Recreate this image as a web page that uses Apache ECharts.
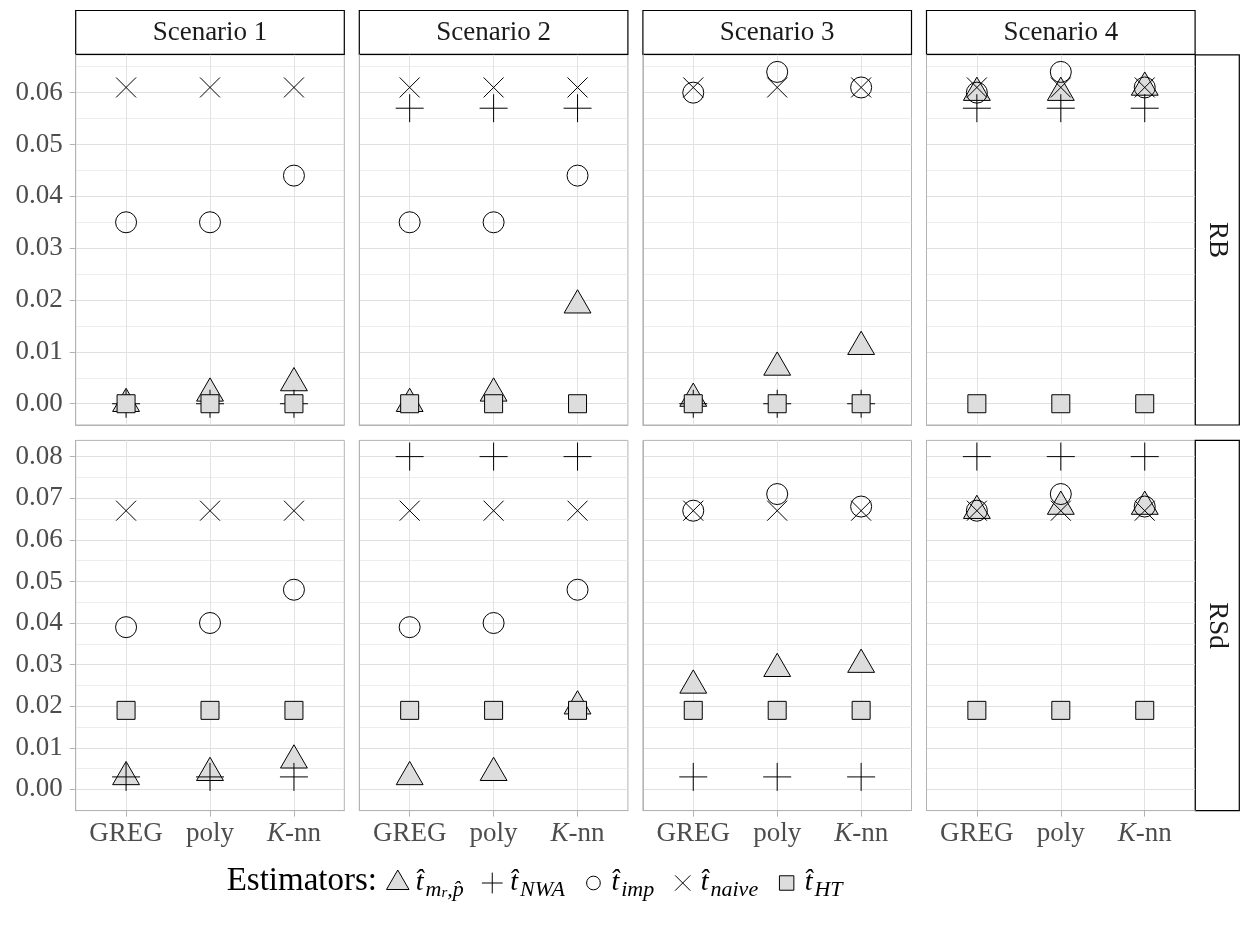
<!DOCTYPE html>
<html><head><meta charset="utf-8">
<script src="https://cdn.jsdelivr.net/npm/echarts@6/dist/echarts.min.js"></script>
<style>html,body{margin:0;padding:0;background:#fff}#c{width:1243px;height:925px}</style>
</head><body><div id="c"></div>
<script>
// ---------- data ----------
const categories = ['GREG', 'poly', 'K-nn'];
const scenarios = ['Scenario 1', 'Scenario 2', 'Scenario 3', 'Scenario 4'];
const metrics = ['RB', 'RSd'];
const estimators = ['mr', 'NWA', 'imp', 'naive', 'HT'];

// values per scenario, per category (GREG, poly, K-nn)
const rbMr    = [[0.000, 0.002, 0.004], [0.000, 0.002, 0.019], [0.001, 0.007, 0.011], [0.060, 0.060, 0.061]];
const rbNWA   = [[0.000, 0.000, 0.000], [0.057, 0.057, 0.057], [0.000, 0.000, 0.000], [0.057, 0.057, 0.057]];
const rbImp   = [[0.035, 0.035, 0.044], [0.035, 0.035, 0.044], [0.060, 0.064, 0.061], [0.060, 0.064, 0.061]];
const rbNaive = [[0.061, 0.061, 0.061], [0.061, 0.061, 0.061], [0.061, 0.061, 0.061], [0.061, 0.061, 0.061]];
const rbHT    = [[0.000, 0.000, 0.000], [0.000, 0.000, 0.000], [0.000, 0.000, 0.000], [0.000, 0.000, 0.000]];

const rsdMr    = [[0.003, 0.004, 0.007], [0.003, 0.004, 0.020], [0.025, 0.029, 0.030], [0.067, 0.068, 0.068]];
const rsdNWA   = [[0.003, 0.003, 0.003], [0.080, 0.080, 0.080], [0.003, 0.003, 0.003], [0.080, 0.080, 0.080]];
const rsdImp   = [[0.039, 0.040, 0.048], [0.039, 0.040, 0.048], [0.067, 0.071, 0.068], [0.067, 0.071, 0.068]];
const rsdNaive = [[0.067, 0.067, 0.067], [0.067, 0.067, 0.067], [0.067, 0.067, 0.067], [0.067, 0.067, 0.067]];
const rsdHT    = [[0.019, 0.019, 0.019], [0.019, 0.019, 0.019], [0.019, 0.019, 0.019], [0.019, 0.019, 0.019]];

// axis ticks / ranges
const rbTicks = [0, 0.01, 0.02, 0.03, 0.04, 0.05, 0.06];
const rbMinorTicks = [0.005, 0.015, 0.025, 0.035, 0.045, 0.055, 0.065];
const rsdTicks = [0, 0.01, 0.02, 0.03, 0.04, 0.05, 0.06, 0.07, 0.08];
const rsdMinorTicks = [0.005, 0.015, 0.025, 0.035, 0.045, 0.055, 0.065, 0.075];
const rbRange = [-0.0041, 0.0673];
const rsdRange = [-0.0051, 0.0839];
const xTickPos = [1, 2, 3];

const legendLabels = {
  mr: '{t|t\u0302}{s0|m}{ss|r}{s|,p\u0302}',
  NWA: '{t|t\u0302}{s0|NWA}',
  imp: '{t|t\u0302}{s0|imp}',
  naive: '{t|t\u0302}{s0|naive}',
  HT: '{t|t\u0302}{s0|HT}'
};

// ---------- build ----------
const FONT = 'Liberation Serif';
const valueTable = {
  RB: { mr: rbMr, NWA: rbNWA, imp: rbImp, naive: rbNaive, HT: rbHT },
  RSd: { mr: rsdMr, NWA: rsdNWA, imp: rsdImp, naive: rsdNaive, HT: rsdHT }
};
const axisInfo = {
  RB: { ticks: rbTicks, minor: rbMinorTicks, range: rbRange },
  RSd: { ticks: rsdTicks, minor: rsdMinorTicks, range: rsdRange }
};
const drawOrder = ['mr', 'NWA', 'HT', 'imp', 'naive'];
const markerStyle = {
  mr:    { symbol: 'path://M0,1M0,-1L0.866,0.5L-0.866,0.5Z', size: 31, fill: '#dddddd' },
  NWA:   { symbol: 'path://M0,-1L0,1M-1,0L1,0', size: 28, fill: 'transparent' },
  imp:   { symbol: 'circle', size: 21, fill: 'transparent' },
  naive: { symbol: 'path://M-1,-1L1,1M-1,1L1,-1', size: 20, fill: 'transparent' },
  HT:    { symbol: 'rect', size: 18, fill: '#dddddd' }
};
const legendIcons = {
  mr: 'path://M0,1M0,-1L0.866,0.5L-0.866,0.5Z',
  NWA: 'path://M-1.25,-1.25M1.25,1.25M0,-1L0,1M-1,0L1,0',
  imp: 'path://M-1.9,-1.9M1.9,1.9M-1,0A1,1,0,1,0,1,0A1,1,0,1,0,-1,0Z',
  naive: 'path://M-1.7,-1.7M1.7,1.7M-1,-1L1,1M-1,1L1,-1',
  HT: 'path://M-1.8,-1.8M1.8,1.8M-1,-1L1,-1L1,1L-1,1Z'
};

const panelLeft0 = 75.7, panelStep = 283.6, panelW = 268.6;
const rowTops = [54.8, 440.4], panelH = 370.2;
const stripTop = 10.5, stripH = 43.8, rStripX = 1195.3, rStripW = 44;

const grid = [], xAxis = [], yAxis = [], series = [], graphic = [];

metrics.forEach((m, r) => {
  scenarios.forEach((sc, c) => {
    const g = r * 4 + c;
    const info = axisInfo[m];
    grid.push({
      left: panelLeft0 + c * panelStep, top: rowTops[r], width: panelW, height: panelH,
      show: true, borderColor: '#b3b3b3', borderWidth: 1, backgroundColor: '#fff',
      containLabel: false, outerBoundsMode: 'none'
    });
    xAxis.push({
      type: 'value', gridIndex: g, min: 0.4, max: 3.6, position: 'bottom',
      axisLine: { show: true, onZero: false, lineStyle: { color: '#b3b3b3', width: 1 } },
      axisTick: { show: r === 1, customValues: xTickPos, length: 6, lineStyle: { color: '#b3b3b3', width: 1 } },
      axisLabel: {
        show: r === 1, customValues: xTickPos, margin: 10,
        color: '#4d4d4d', fontFamily: FONT, fontSize: 27,
        formatter: v => categories[Math.round(v) - 1].replace(/^K/, '{i|K}'),
        rich: { i: { fontStyle: 'italic', fontFamily: FONT, fontSize: 27, color: '#4d4d4d' } }
      },
      splitLine: { show: true, lineStyle: { color: '#e3e3e3', width: 1 } },
      minorSplitLine: { show: false }
    });
    yAxis.push({
      type: 'value', gridIndex: g, min: info.range[0], max: info.range[1], position: 'left',
      axisLine: { show: true, onZero: false, lineStyle: { color: '#b3b3b3', width: 1 } },
      axisTick: { show: c === 0, customValues: info.ticks, length: 6, lineStyle: { color: '#b3b3b3', width: 1 } },
      axisLabel: {
        show: c === 0, customValues: info.ticks, margin: 13,
        color: '#4d4d4d', fontFamily: FONT, fontSize: 27,
        formatter: v => v.toFixed(2)
      },
      splitLine: { show: true, lineStyle: { color: '#e0e0e0', width: 1.1 } }
    });
    yAxis.push({
      type: 'value', gridIndex: g, min: info.range[0], max: info.range[1], position: 'right',
      axisLine: { show: false, onZero: false },
      axisTick: { show: false, customValues: info.minor },
      axisLabel: { show: false },
      splitLine: { show: true, lineStyle: { color: '#e9e9e9', width: 0.8 } }
    });
    drawOrder.forEach(est => {
      const st = markerStyle[est];
      series.push({
        type: 'scatter', name: est, xAxisIndex: g, yAxisIndex: 2 * g,
        symbol: st.symbol, symbolSize: st.size, symbolKeepAspect: true,
        itemStyle: { color: st.fill, borderColor: '#000', borderWidth: 1, opacity: 1 },
        emphasis: { disabled: true },
        silent: true,
        data: valueTable[m][est][c].map((v, i) => [xTickPos[i], v])
      });
    });
    // top strip
    if (r === 0) {
      graphic.push({
        type: 'group', silent: true,
        children: [
          { type: 'rect', shape: { x: panelLeft0 + c * panelStep, y: stripTop, width: panelW, height: stripH },
            style: { fill: '#fff', stroke: '#000', lineWidth: 1.2 } },
          { type: 'text', x: panelLeft0 + c * panelStep + panelW / 2, y: stripTop + stripH / 2 + 1,
            style: { text: sc, fontFamily: FONT, fontSize: 27, fill: '#1a1a1a',
                     align: 'center', verticalAlign: 'middle', textAlign: 'center', textVerticalAlign: 'middle' } }
        ]
      });
    }
  });
  // right strip
  graphic.push({
    type: 'group', silent: true,
    children: [
      { type: 'rect', shape: { x: rStripX, y: rowTops[r], width: rStripW, height: panelH },
        style: { fill: '#fff', stroke: '#000', lineWidth: 1.2 } },
      { type: 'text', x: rStripX + rStripW / 2, y: rowTops[r] + panelH / 2, rotation: -Math.PI / 2,
        style: { text: m, fontFamily: FONT, fontSize: 27, fill: '#1a1a1a',
                 align: 'center', verticalAlign: 'middle', textAlign: 'center', textVerticalAlign: 'middle' } }
    ]
  });
});

graphic.push({
  type: 'text', x: 377, y: 881, silent: true,
  style: { text: 'Estimators:', fontFamily: FONT, fontSize: 33, fill: '#000',
           align: 'right', verticalAlign: 'middle', textAlign: 'right', textVerticalAlign: 'middle' }
});

const option = {
  animation: false,
  backgroundColor: '#fff',
  grid, xAxis, yAxis, series, graphic,
  legend: {
    left: 381, top: 864, itemWidth: 26, itemHeight: 26, itemGap: 15,
    selectedMode: false,
    data: estimators.map(e => ({
      name: e, icon: legendIcons[e],
      itemStyle: { color: markerStyle[e].fill, borderColor: '#000', borderWidth: 1 }
    })),
    formatter: n => legendLabels[n],
    textStyle: {
      color: '#000', fontFamily: FONT, fontSize: 28,
      rich: {
        t: { fontFamily: FONT, fontSize: 28, fontStyle: 'italic', lineHeight: 36, color: '#000' },
        s0: { fontFamily: FONT, fontSize: 22, fontStyle: 'italic', verticalAlign: 'bottom', padding: [0, 0, 0, 2], color: '#000' },
        s: { fontFamily: FONT, fontSize: 22, fontStyle: 'italic', verticalAlign: 'bottom', color: '#000' },
        ss: { fontFamily: FONT, fontSize: 15, fontStyle: 'italic', verticalAlign: 'bottom', color: '#000' }
      }
    }
  }
};
const chart = echarts.init(document.getElementById('c'), null, { renderer: 'canvas' });
chart.setOption(option);
</script>
</body></html>
